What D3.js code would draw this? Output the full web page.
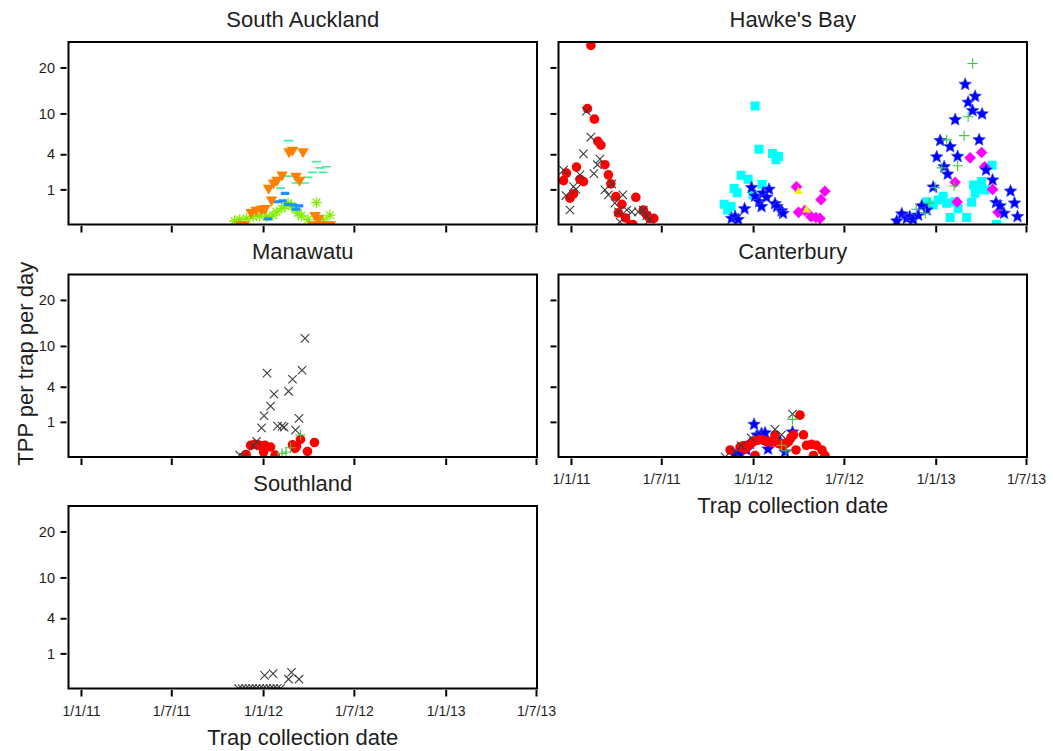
<!DOCTYPE html>
<html>
<head>
<meta charset="utf-8">
<script src="https://cdn.jsdelivr.net/npm/d3@7"></script>
<style>
  html, body { margin: 0; padding: 0; background: #fff; }
  svg { display: block; font-family: Arial, "Liberation Sans", Helvetica, sans-serif; }
</style>
</head>
<body>
<svg id="chart" width="1053" height="751"></svg>
<script>
// ---- Axis settings -------------------------------------------------------
const tickDates = ["2011-01-01", "2011-07-01", "2012-01-01", "2012-07-01", "2013-01-01", "2013-07-01"];
const dateDomain = ["2010-12-07", "2013-07-03"];
const yTicks = [1, 4, 10, 20];
const yMax = 27;

// ---- South Auckland ------------------------------------------------------
const saTriangle = [["2011-11-17",0],["2011-11-24",0],["2011-12-08",0.12],["2011-12-18",0.17],["2011-12-29",0.19],["2012-01-05",0.21],
  ["2012-01-12",1.07],["2012-01-18",0.49],["2012-01-22",1.4],["2012-01-29",1.6],["2012-02-08",2.0],["2012-02-22",4.3],
  ["2012-02-29",4.5],["2012-03-07",1.9],["2012-03-14",1.6],["2012-03-21",4.3],["2012-04-10",0],["2012-04-14",0.07],
  ["2012-04-21",0.03],["2012-04-28",0],["2012-05-08",0],["2012-05-15",0]];
const saAsterisk = [["2011-11-05",0.01],["2011-11-15",0.02],["2011-11-29",0.03],["2011-12-12",0.05],["2011-12-25",0.06],
  ["2012-01-08",0.05],["2012-01-21",0.07],["2012-01-28",0.13],["2012-02-07",0.21],["2012-02-14",0.28],["2012-02-20",0.37],
  ["2012-02-27",0.28],["2012-03-05",0.19],["2012-03-11",0.11],["2012-03-18",0.06],["2012-03-31",0.02],["2012-04-17",0.39],
  ["2012-05-01",0.02],["2012-05-14",0.07]];
const saBlueDash = [["2012-01-11",0.025],["2012-01-29",0.42],["2012-02-09",0.45],["2012-02-14",0.79],["2012-02-20",0.33],
  ["2012-03-01",0.31],["2012-03-07",0.19],["2012-03-13",0.28]];
const saMintDash = [["2012-02-05",1.07],["2012-02-21",5.7],["2012-02-22",1.9],["2012-03-07",1.4],["2012-03-24",1.4],
  ["2012-03-31",1.8],["2012-04-09",2.2],["2012-04-17",3.2],["2012-04-24",2.6],["2012-04-30",2.2],["2012-05-07",2.7]];

// ---- Hawke's Bay ---------------------------------------------------------
const hbCircle = [["2010-12-17",1.56],["2010-12-23",2.14],["2010-12-30",0.56],["2011-01-06",0.76],["2011-01-12",2.67],
  ["2011-01-19",1.66],["2011-01-26",1.49],["2011-02-03",10.9],["2011-02-10",26],["2011-02-17",9.0],["2011-02-24",5.6],
  ["2011-03-02",5.1],["2011-03-10",2.9],["2011-03-17",2.0],["2011-03-22",1.34],["2011-04-01",0.63],["2011-04-06",0.11],
  ["2011-04-13",0.33],["2011-04-20",0.035],["2011-05-01",0],["2011-05-05",0],["2011-05-11",0.6],["2011-05-26",0.17],
  ["2011-06-02",0.07],["2011-06-08",0.03],["2011-06-16",0.03]];
const hbCross = [["2010-12-17",2.4],["2010-12-22",0.68],["2010-12-30",0.17],["2011-01-06",1.16],["2011-01-11",1.0],
  ["2011-01-19",2.0],["2011-01-26",4.05],["2011-02-01",10.4],["2011-02-10",6.2],["2011-02-16",2.1],["2011-02-23",2.9],
  ["2011-02-28",3.46],["2011-03-10",0.97],["2011-03-17",0.71],["2011-03-24",1.34],["2011-03-30",0.37],["2011-04-06",0.13],
  ["2011-04-09",0.006],["2011-04-15",0.71],["2011-04-23",0.17],["2011-05-03",0.13],["2011-05-16",0.13],["2011-05-26",0.17],
  ["2011-06-02",0.06],["2011-06-08",0.02]];
const hbSquare = [["2011-11-04",0.33],["2011-11-11",0.17],["2011-11-18",0.26],["2011-11-24",1.05],["2011-11-30",0.82],
  ["2011-12-08",1.97],["2011-12-22",1.66],["2012-01-01",0.71],["2012-01-05",11.4],["2012-01-13",4.6],["2012-01-19",1.3],
  ["2012-02-09",4.1],["2012-02-16",3.4],["2012-02-21",3.75],
  ["2012-12-14",0.42],["2012-12-27",0.31],["2013-01-06",0.49],["2013-01-16",0.65],["2013-01-23",0.37],["2013-01-30",0.04],
  ["2013-02-09",0.42],["2013-02-15",0.21],["2013-03-04",0.04],["2013-03-14",0.4],["2013-03-18",1.27],["2013-03-21",0.79],
  ["2013-03-24",1.07],["2013-04-03",1.5],["2013-04-10",0.97],["2013-04-24",2.85],["2013-05-03",0]];
const hbStar = [["2011-11-19",0.03],["2011-11-26",0.05],["2011-12-02",0.02],["2011-12-15",0.2],["2011-12-29",1.1],
  ["2012-01-05",0.65],["2012-01-13",0.42],["2012-01-18",0.26],["2012-01-21",0.8],["2012-01-28",0.6],["2012-02-02",1.0],
  ["2012-02-14",0.35],["2012-02-18",0.26],["2012-02-27",0.15],["2012-03-01",0.1],
  ["2012-10-15",0.01],["2012-10-25",0.09],["2012-11-04",0.03],["2012-11-10",0.05],["2012-11-17",0.02],["2012-11-27",0.07],
  ["2012-12-04",0.28],["2012-12-14",0.17],["2012-12-27",1.13],["2013-01-03",3.7],["2013-01-10",5.7],["2013-01-18",2.7],
  ["2013-01-25",2.05],["2013-01-30",4.9],["2013-02-09",8.9],["2013-02-14",3.75],["2013-03-01",15.9],["2013-03-07",12.1],
  ["2013-03-16",10.5],["2013-03-21",13.3],["2013-03-29",5.8],["2013-04-04",9.9],["2013-04-12",2.4],["2013-04-25",1.6],
  ["2013-05-02",0.39],["2013-05-10",0.28],["2013-05-18",0.1],["2013-05-31",0.9],["2013-06-08",0.37],["2013-06-14",0.05]];
const hbDiamond = [["2012-03-28",1.15],["2012-04-01",0.12],["2012-04-14",0.16],["2012-04-26",0.05],["2012-05-06",0.04],
  ["2012-05-14",0.03],["2012-05-16",0.5],["2012-05-24",0.9],
  ["2013-02-09",1.45],["2013-02-13",0.41],["2013-03-11",3.6],["2013-04-03",4.2],["2013-04-09",2.7],["2013-04-25",1.0],
  ["2013-05-06",0.12]];
const hbTriangle = [["2012-04-01",0.88],["2012-04-17",0.17]];
const hbPlus = [["2012-11-23",0.19],["2012-12-11",0.1],["2012-12-19",0.37],["2012-12-31",1.1],["2013-01-13",2.6],
  ["2013-01-23",5.8],["2013-02-07",1.2],["2013-02-14",2.8],["2013-02-27",6.4],["2013-03-07",9.4],["2013-03-16",21]];

// ---- Manawatu ------------------------------------------------------------
const mwCross = [["2011-11-15",0.003],["2011-11-23",0],["2011-12-12",0.095],["2011-12-19",0.2],["2011-12-29",0.69],
  ["2012-01-03",1.38],["2012-01-09",5.7],["2012-01-16",2.1],["2012-01-23",3.2],["2012-01-30",0.77],["2012-02-08",0.77],
  ["2012-02-12",0.72],["2012-02-21",3.5],["2012-02-29",4.9],["2012-03-06",0.59],["2012-03-13",1.21],["2012-03-19",6.1],
  ["2012-03-25",11.4]];
const mwCircle = [["2011-11-28",0.005],["2011-12-07",0.11],["2011-12-15",0.13],["2011-12-22",0.12],["2011-12-28",0.1],
  ["2012-01-02",0.02],["2012-01-05",0.11],["2012-01-16",0.08],["2012-01-25",0.003],["2012-02-29",0.12],["2012-03-05",0.06],
  ["2012-03-08",0.09],["2012-03-16",0.25],["2012-03-30",0.025],["2012-04-13",0.17]];
const mwPlus = [["2012-01-31",0],["2012-02-08",0.01],["2012-02-16",0.02],["2012-02-25",0.07],["2012-03-16",0.39]];

// ---- Canterbury ----------------------------------------------------------
const cbCircle = [["2011-11-16",0.04],["2011-12-06",0.08],["2011-12-12",0.1],["2011-12-16",0.05],["2011-12-22",0.11],
  ["2011-12-28",0.15],["2012-01-01",0.19],["2012-01-05",0.002],["2012-01-08",0.22],["2012-01-11",0.23],["2012-01-18",0.25],
  ["2012-01-24",0.22],["2012-01-28",0.19],["2012-02-04",0.2],["2012-02-08",0.18],["2012-02-14",0.39],["2012-02-21",0.15],
  ["2012-02-26",0.13],["2012-03-02",0.11],["2012-03-07",0.15],["2012-03-12",0.19],["2012-03-17",0.3],["2012-03-22",0.4],
  ["2012-03-27",0.04],["2012-04-04",1.42],["2012-04-11",0.4],["2012-04-17",0.11],["2012-04-27",0.13],["2012-05-01",0.002],
  ["2012-05-07",0.11],["2012-05-18",0.04],["2012-05-24",0.002]];
const cbStar = [["2011-11-26",0.003],["2011-12-06",0.01],["2011-12-19",0.04],["2011-12-26",0.15],["2012-01-03",0.86],
  ["2012-01-09",0.39],["2012-01-18",0.45],["2012-01-25",0.47],["2012-01-31",0.05],["2012-02-14",0.25],["2012-02-24",0.19],
  ["2012-03-05",0.02],["2012-03-20",0.5]];
const cbCross = [["2011-11-06",0],["2011-11-26",0.02],["2011-12-08",0.1],["2011-12-28",0.3],["2012-02-14",0.62],
  ["2012-02-27",0.4],["2012-03-20",1.5]];
const cbPlus = [["2012-02-27",0.11],["2012-03-07",0.03],["2012-03-20",1.15]];

// ---- Southland -----------------------------------------------------------
const slCross = [["2011-11-13",0],["2011-11-20",0],["2011-11-27",0],["2011-12-04",0],["2011-12-11",0],["2011-12-18",0],
  ["2011-12-25",0],["2012-01-01",0],["2012-01-08",0],["2012-01-15",0],["2012-01-22",0],["2012-01-29",0],["2012-02-05",0],
  ["2012-01-04",0.14],["2012-01-21",0.18],["2012-02-21",0.07],["2012-02-27",0.21],["2012-03-13",0.07]];

// ---- Marker shapes (custom d3.symbol types; "size" is a radius) ----------
const shapes = {
  circle: { draw(c, r) { c.moveTo(r, 0); c.arc(0, 0, r, 0, 2 * Math.PI); } },
  square: { draw(c, r) { c.rect(-r, -r, 2 * r, 2 * r); } },
  diamond: { draw(c, r) { c.moveTo(0, -r); c.lineTo(r, 0); c.lineTo(0, r); c.lineTo(-r, 0); c.closePath(); } },
  triangleUp: { draw(c, s) { const h = s * Math.sqrt(3) / 2;
    c.moveTo(0, -2 * h / 3); c.lineTo(s / 2, h / 3); c.lineTo(-s / 2, h / 3); c.closePath(); } },
  triangleDown: { draw(c, s) { const h = s * Math.sqrt(3) / 2;
    c.moveTo(0, 2 * h / 3); c.lineTo(s / 2, -h / 3); c.lineTo(-s / 2, -h / 3); c.closePath(); } },
  star: { draw(c, r) {
    const ri = r * 0.45;
    for (let i = 0; i < 10; i++) {
      const a = -Math.PI / 2 + i * Math.PI / 5, rr = i % 2 ? ri : r;
      const px = rr * Math.cos(a), py = rr * Math.sin(a);
      if (i === 0) c.moveTo(px, py); else c.lineTo(px, py);
    }
    c.closePath(); } },
  times: { draw(c, r) { c.moveTo(-r, -r); c.lineTo(r, r); c.moveTo(r, -r); c.lineTo(-r, r); } },
  plus: { draw(c, r) { c.moveTo(-r, 0); c.lineTo(r, 0); c.moveTo(0, -r); c.lineTo(0, r); } },
  asterisk: { draw(c, r) {
    for (let i = 0; i < 4; i++) {
      const a = i * Math.PI / 4;
      c.moveTo(-r * Math.cos(a), -r * Math.sin(a)); c.lineTo(r * Math.cos(a), r * Math.sin(a));
    } } },
  dashThick: { draw(c, w) { c.rect(-w / 2, -1.6, w, 3.2); } },
  dashThin: { draw(c, w) { c.rect(-w / 2, -0.8, w, 1.6); } }
};

const markStyles = {
  redCircle:    { shape: "circle", size: 4.8, fill: "#ff0000", stroke: "none", sw: 0 },
  blackCross:   { shape: "times", size: 4.2, fill: "none", stroke: "#3c3c3c", sw: 1.1 },
  greenPlus:    { shape: "plus", size: 5.2, fill: "none", stroke: "#3cc83c", sw: 1.1 },
  blueStar:     { shape: "star", size: 6.6, fill: "#0000ff", stroke: "#3a48ff", sw: 0.7 },
  cyanSquare:   { shape: "square", size: 4.5, fill: "#00ffff", stroke: "none", sw: 0 },
  pinkDiamond:  { shape: "diamond", size: 5.8, fill: "#ff00ff", stroke: "none", sw: 0 },
  yellowTri:    { shape: "triangleUp", size: 8.5, fill: "#f2f200", stroke: "none", sw: 0 },
  orangeTri:    { shape: "triangleDown", size: 11.5, fill: "#ff8000", stroke: "none", sw: 0 },
  limeAsterisk: { shape: "asterisk", size: 5.4, fill: "none", stroke: "#80f000", sw: 1.3 },
  blueDash:     { shape: "dashThick", size: 8.5, fill: "#1e90ff", stroke: "none", sw: 0 },
  mintDash:     { shape: "dashThin", size: 9, fill: "#40eea0", stroke: "none", sw: 0 }
};

// ---- Panel table ---------------------------------------------------------
const panels = [
  { title: "South Auckland", col: 0, row: 0, xLabels: false,
    series: [[saAsterisk, "limeAsterisk"], [saMintDash, "mintDash"], [saBlueDash, "blueDash"], [saTriangle, "orangeTri"]] },
  { title: "Hawke's Bay", col: 1, row: 0, xLabels: false,
    series: [[hbCircle, "redCircle"], [hbCross, "blackCross"], [hbSquare, "cyanSquare"], [hbDiamond, "pinkDiamond"],
             [hbTriangle, "yellowTri"], [hbStar, "blueStar"], [hbPlus, "greenPlus"]] },
  { title: "Manawatu", col: 0, row: 1, xLabels: false,
    series: [[mwCircle, "redCircle"], [mwPlus, "greenPlus"], [mwCross, "blackCross"]] },
  { title: "Canterbury", col: 1, row: 1, xLabels: true,
    series: [[cbStar, "blueStar"], [cbCircle, "redCircle"], [cbCross, "blackCross"], [cbPlus, "greenPlus"]] },
  { title: "Southland", col: 0, row: 2, xLabels: true,
    series: [[slCross, "blackCross"]] }
];

// ---- Layout --------------------------------------------------------------
const colX = [68.5, 558.5];
const rowY = [42, 274.5, 506];
const plotW = 468.5, plotH = 182.5;
const textColor = "#1e1e1e";

const parseDay = d3.utcParse("%Y-%m-%d");
const fmtTick = d3.utcFormat("%-d/%-m/%y");

const x = d3.scaleUtc().domain(dateDomain.map(parseDay)).range([0, plotW]);
const y = d3.scaleSqrt().domain([0, yMax]).range([plotH, 0]);

const svg = d3.select("#chart");
const defs = svg.append("defs");
defs.append("clipPath").attr("id", "plot-clip")
  .append("rect").attr("x", 0).attr("y", 0).attr("width", plotW).attr("height", plotH);

panels.forEach(p => {
  const g = svg.append("g").attr("transform", `translate(${colX[p.col]},${rowY[p.row]})`);

  // points
  const pts = g.append("g").attr("clip-path", "url(#plot-clip)");
  p.series.forEach(([data, styleKey]) => {
    const st = markStyles[styleKey];
    const sym = d3.symbol().type(shapes[st.shape]).size(st.size);
    pts.append("g").selectAll("path").data(data).join("path")
      .attr("transform", d => `translate(${x(parseDay(d[0]))},${y(d[1])})`)
      .attr("d", sym)
      .attr("fill", st.fill)
      .attr("stroke", st.stroke)
      .attr("stroke-width", st.sw);
  });

  // frame
  g.append("rect").attr("x", 0).attr("y", 0).attr("width", plotW).attr("height", plotH)
    .attr("fill", "none").attr("stroke", "#000").attr("stroke-width", 2);

  // x axis (offset ticks below the frame)
  const xAxis = d3.axisBottom(x).tickValues(tickDates.map(parseDay))
    .tickSizeInner(6.5).tickSizeOuter(0).tickPadding(9.5)
    .tickFormat(p.xLabels ? fmtTick : () => "");
  const gx = g.append("g").attr("transform", `translate(0,${plotH + 1.5})`).call(xAxis);
  gx.select(".domain").remove();
  gx.selectAll(".tick line").attr("stroke", "#000").attr("stroke-width", 2);
  gx.selectAll(".tick text").attr("fill", textColor).style("font-size", "14px")
    .style("font-family", "Arial, 'Liberation Sans', sans-serif");

  // y axis
  const yAxis = d3.axisLeft(y).tickValues(yTicks)
    .tickSizeInner(6).tickSizeOuter(0).tickPadding(5.5)
    .tickFormat(p.col === 0 ? d3.format("d") : () => "");
  const gy = g.append("g").attr("transform", "translate(-2,0)").call(yAxis);
  gy.select(".domain").remove();
  gy.selectAll(".tick line").attr("stroke", "#000").attr("stroke-width", 2);
  gy.selectAll(".tick text").attr("fill", textColor).style("font-size", "14.5px")
    .style("font-family", "Arial, 'Liberation Sans', sans-serif");

  // panel title
  g.append("text").attr("x", plotW / 2).attr("y", -15.5).attr("text-anchor", "middle")
    .attr("fill", textColor).style("font-size", "22px").text(p.title);

  // x-axis title under panels that carry date labels
  if (p.xLabels) {
    g.append("text").attr("x", plotW / 2).attr("y", plotH + 56).attr("text-anchor", "middle")
      .attr("fill", textColor).style("font-size", "22px").text("Trap collection date");
  }
});

// shared y-axis title
svg.append("text")
  .attr("transform", `translate(33,${rowY[1] + plotH / 2 - 2}) rotate(-90)`)
  .attr("text-anchor", "middle").attr("fill", textColor).style("font-size", "22px")
  .text("TPP per trap per day");
</script>
</body>
</html>
